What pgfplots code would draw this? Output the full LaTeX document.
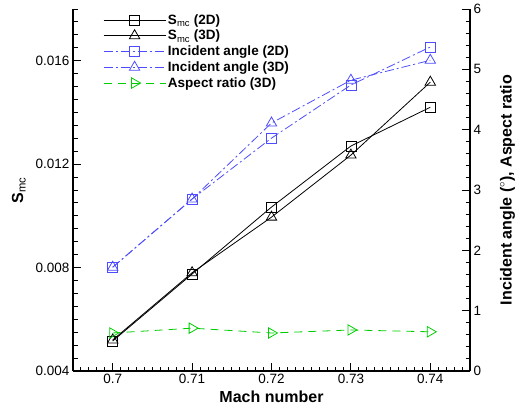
\documentclass[border=0pt]{standalone}
\usepackage{pgfplots}
\pgfplotsset{compat=1.18}
\usepackage{fontspec}
\setmainfont{Liberation Sans}
\definecolor{myblue}{RGB}{77,77,255}
\definecolor{mygreen}{RGB}{0,204,0}
\begin{document}
\begin{tikzpicture}
\pgfplotsset{
 every axis/.append style={
  width=397pt, height=362pt, scale only axis,
  xmin=0.695, xmax=0.745,
  tick align=inside,
  major tick length=8pt, minor tick length=4.5pt,
  every tick/.style={black, line width=0.9pt},
  axis line style={line width=1.3pt},
  tick label style={font=\fontsize{13.5}{16}\selectfont},
  /pgf/number format/assume math mode=true,
  label style={font=\fontsize{16}{19}\selectfont\bfseries},
 }
}
\begin{axis}[
 axis x line*=bottom, axis y line*=left,
 ymin=0.004, ymax=0.018,
 ytick={0.004,0.008,0.012,0.016},
 minor ytick={0.004,0.0045,...,0.0181},
 xtick={0.7,0.71,0.72,0.73,0.74},
 minor xtick={0.695,0.696,...,0.7451},
 scaled y ticks=false,
 yticklabel style={/pgf/number format/fixed, /pgf/number format/fixed zerofill, /pgf/number format/precision=3},
 xticklabel style={/pgf/number format/fixed, /pgf/number format/precision=2},
 xlabel={Mach number},
 ylabel={S\textsubscript{\mdseries mc}},
 ylabel shift=3pt,
]
\coordinate (ll) at (rel axis cs:0,0);
\coordinate (ur) at (rel axis cs:1,1);
\addplot[black, line width=0.8pt, mark=square, mark size=5pt] coordinates {(0.7,0.00516)(0.71,0.00775)(0.72,0.01034)(0.73,0.0127)(0.74,0.0142)};
\addplot[black, line width=0.8pt, mark=triangle, mark size=6pt] coordinates {(0.7,0.0052)(0.71,0.0078)(0.72,0.00995)(0.73,0.01235)(0.74,0.01517)};
\end{axis}
\begin{axis}[
 axis x line=none, axis y line*=right,
 ymin=0, ymax=6, ytick={0,1,...,6}, minor ytick={0,0.2,...,6.01},
 ylabel={Incident angle ($^\circ$), Aspect ratio},
 ylabel shift=12pt,
 legend cell align=left,
 legend style={draw=none, fill=none, at={(0.068,0.997)}, anchor=north west,
   font=\fontsize{13.5}{16}\selectfont\bfseries, row sep=0.5pt,
   /tikz/every even column/.append style={column sep=4pt}},
 legend image code/.code={\draw[mark repeat=2,mark phase=2] plot coordinates {(0pt,0pt) (31pt,0pt) (62pt,0pt)};},
]
\addlegendimage{black, line width=0.8pt, mark=square, mark size=5pt}
\addlegendentry{S\textsubscript{\mdseries mc} (2D)}
\addlegendimage{black, line width=0.8pt, mark=triangle, mark size=6pt}
\addlegendentry{S\textsubscript{\mdseries mc} (3D)}
\addplot[myblue, line width=0.8pt, dash pattern=on 9pt off 3pt on 2pt off 3pt, mark=square, mark size=5pt, mark options={solid}] coordinates {(0.7,1.72)(0.71,2.85)(0.72,3.86)(0.73,4.74)(0.74,5.37)};
\addlegendentry{Incident angle (2D)}
\addplot[myblue, line width=0.8pt, dash pattern=on 9pt off 3pt on 2pt off 3pt, mark=triangle, mark size=6pt, mark options={solid}] coordinates {(0.7,1.72)(0.71,2.85)(0.72,4.11)(0.73,4.82)(0.74,5.15)};
\addlegendentry{Incident angle (3D)}
\addplot[mygreen, line width=0.8pt, dash pattern=on 8pt off 6pt, mark=triangle, mark size=6pt, mark options={solid, rotate=-90}] coordinates {(0.7,0.63)(0.71,0.71)(0.72,0.63)(0.73,0.68)(0.74,0.65)};
\addlegendentry{Aspect ratio (3D)}
\end{axis}
\pgfresetboundingbox
\path[use as bounding box] ([shift={(-73pt,-36pt)}]ll) rectangle ([shift={(51pt,9pt)}]ur);
\end{tikzpicture}
\end{document}
